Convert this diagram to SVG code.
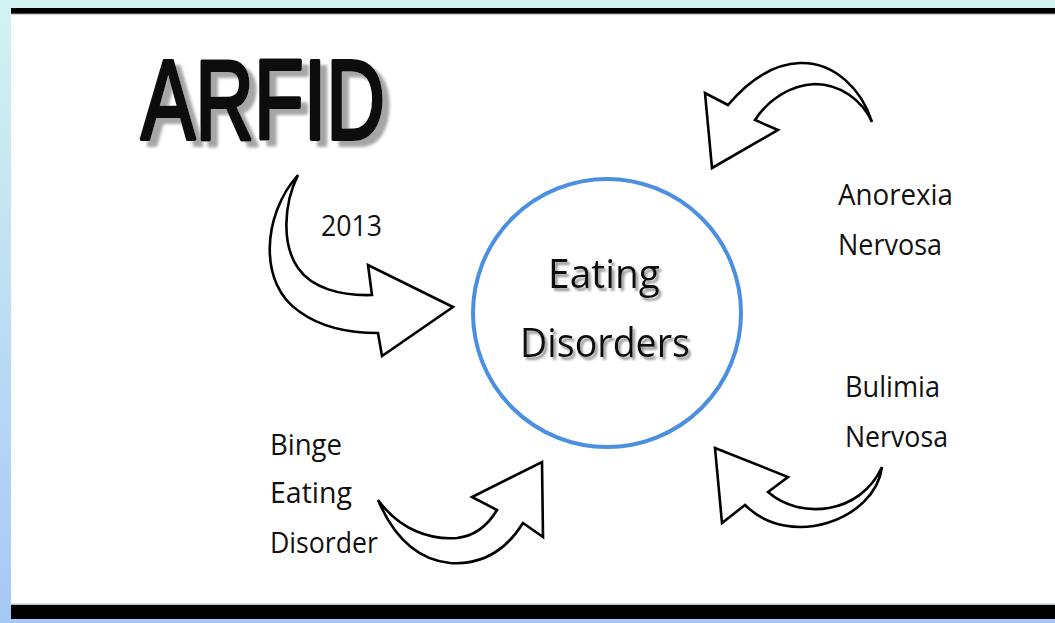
<svg xmlns="http://www.w3.org/2000/svg" width="1055" height="623" viewBox="0 0 1055 623">
  <defs>
    <linearGradient id="bg" x1="0" y1="0" x2="0" y2="1">
      <stop offset="0" stop-color="#d3f2f1"/>
      <stop offset="1" stop-color="#a6c8f6"/>
    </linearGradient>
    <!-- soft grey drop shadows for the headline texts -->
    <filter id="shadow-big" x="-10%" y="-20%" width="130%" height="150%">
      <feDropShadow dx="7" dy="6" stdDeviation="1.5" flood-color="#9c9c9c" flood-opacity="0.9"/>
    </filter>
    <filter id="shadow-small" x="-10%" y="-20%" width="130%" height="150%">
      <feDropShadow dx="2.5" dy="3" stdDeviation="1.2" flood-color="#8a8a8a" flood-opacity="0.9"/>
    </filter>
  </defs>
  <style>
    .label { font-family: "Open Sans", "DejaVu Sans", sans-serif; fill: #111; }
    .title { font-family: "Liberation Sans", Arial, sans-serif; font-size: 114px; fill: #111; stroke: #111; stroke-width: 4; stroke-linejoin: round; }
    .arrow { fill: #fff; stroke: #000; stroke-width: 2.6; stroke-linejoin: miter; }
  </style>

  <!-- page background and frame -->
  <rect x="0" y="0" width="1055" height="623" fill="url(#bg)"/>
  <rect x="11" y="8" width="1044" height="6" fill="#000"/>
  <rect x="11" y="14" width="1044" height="590" fill="#fff"/>
  <rect x="11" y="13.5" width="1044" height="1" fill="#9a9a9a"/>
  <rect x="11" y="603.5" width="1044" height="1" fill="#bbb"/>
  <rect x="11" y="605" width="1044" height="14" fill="#000"/>

  <!-- title -->
  <g id="arfid">
    <text class="title" x="141" y="139" textLength="244" lengthAdjust="spacingAndGlyphs" filter="url(#shadow-big)">ARFID</text>
  </g>

  <!-- central node -->
  <g id="eating-disorders">
    <circle cx="607" cy="313" r="134" fill="none" stroke="#4a8fe0" stroke-width="4"/>
    <g class="label" font-size="41" filter="url(#shadow-small)">
      <text x="548" y="288" textLength="112" lengthAdjust="spacingAndGlyphs">Eating</text>
      <text x="520" y="357" textLength="170" lengthAdjust="spacingAndGlyphs">Disorders</text>
    </g>
  </g>

  <!-- outer labels -->
  <g id="year-2013">
    <text class="label" x="321" y="236" font-size="30" textLength="61" lengthAdjust="spacingAndGlyphs">2013</text>
  </g>
  <g id="anorexia">
    <text class="label" x="838" y="205" font-size="29" textLength="115" lengthAdjust="spacingAndGlyphs">Anorexia</text>
    <text class="label" x="838" y="255" font-size="29" textLength="104" lengthAdjust="spacingAndGlyphs">Nervosa</text>
  </g>
  <g id="bulimia">
    <text class="label" x="845" y="397" font-size="29" textLength="95" lengthAdjust="spacingAndGlyphs">Bulimia</text>
    <text class="label" x="845" y="447" font-size="29" textLength="103" lengthAdjust="spacingAndGlyphs">Nervosa</text>
  </g>
  <g id="binge">
    <text class="label" x="270" y="455" font-size="29" textLength="72" lengthAdjust="spacingAndGlyphs">Binge</text>
    <text class="label" x="270" y="503" font-size="29" textLength="82" lengthAdjust="spacingAndGlyphs">Eating</text>
    <text class="label" x="270" y="553" font-size="29" textLength="108" lengthAdjust="spacingAndGlyphs">Disorder</text>
  </g>

  <!-- curved block arrows -->
  <g id="connectors">
    <path class="arrow" d="M298,175 C262,215 258,285 300,312 C325,330 355,333 378,333 L382,356 L453,307 L368,265 L372,295 C340,296 312,288 298,268 C282,245 283,205 298,175 Z"/>
    <path class="arrow" d="M872,122 C862,90 835,62 800,63 C770,64 745,85 728,105 L705,93 L712,168 L778,130 L755,120 C768,100 790,85 815,84 C840,84 862,100 872,122 Z"/>
    <path class="arrow" d="M882,467 C875,520 790,550 745,505 L722,523 L715,448 L788,477 L768,492 C800,520 860,515 882,467 Z"/>
    <path class="arrow" d="M378,500 C400,530 430,540 457,538 C475,536 488,525 497,510 L472,497 L542,462 L543,537 L523,523 C505,552 480,565 450,563 C420,560 395,540 378,500 Z"/>
  </g>
</svg>
